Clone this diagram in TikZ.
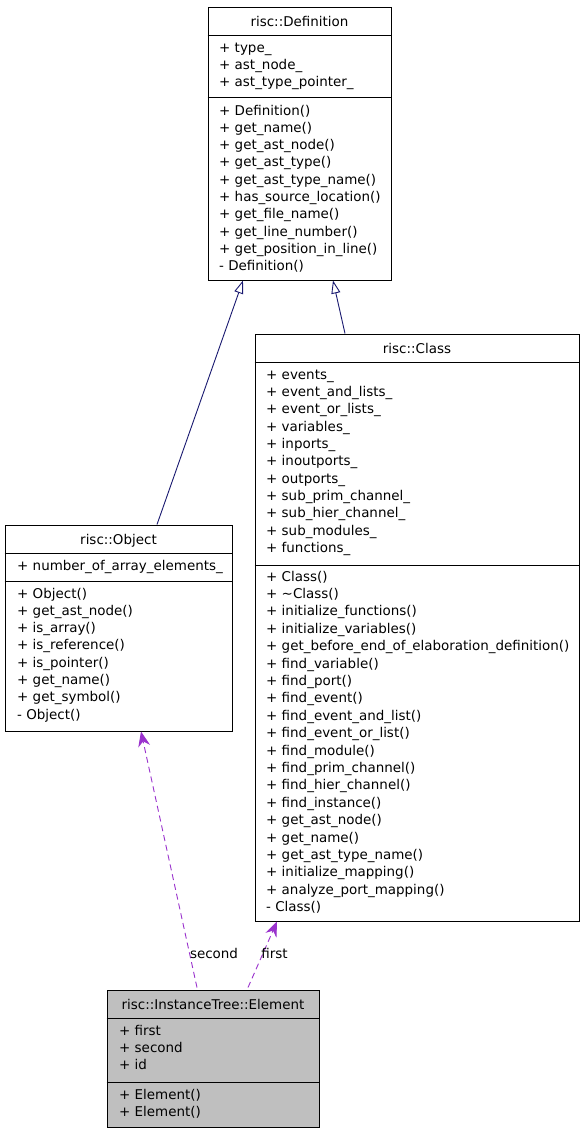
\documentclass[tikz,border=0pt]{standalone}
\usepackage{fontspec}
\setmainfont{DejaVu Sans}
\usetikzlibrary{arrows.meta}
\definecolor{inhcol}{HTML}{191970}
\definecolor{usecol}{HTML}{9A32CD}
\definecolor{elemfill}{HTML}{BFBFBF}
\tikzset{
  umlbox/.style={draw=black, line width=1pt, inner sep=0pt, rectangle},
  septline/.style={draw=black, line width=1pt},
  txt/.style={anchor=base west, inner sep=0pt, font=\fontsize{13.45}{16}\selectfont},
  ttl/.style={anchor=base, inner sep=0pt, font=\fontsize{13.45}{16}\selectfont},
  inherit/.style={draw=inhcol, line width=0.9pt, -{Triangle[open, length=13pt, width=9pt]}},
  uses/.style={draw=usecol, line width=0.9pt, dash pattern=on 6pt off 4pt, -{Stealth[length=15pt, width=12pt, inset=5pt]}},
  elabel/.style={anchor=base, inner sep=0pt, font=\fontsize{13.45}{16}\selectfont}
}
\begin{document}
\begin{tikzpicture}[x=1pt, y=-1pt]
\useasboundingbox (0,0) rectangle (584,1133);
\fill[white] (0,0) rectangle (584,1133);

% ---------- risc::Definition ----------
\node[umlbox, minimum width=183pt, minimum height=273pt] (def) at (299.5,143.5) {};
\draw[septline] (def.west |- 0,35) -- (def.east |- 0,35);
\draw[septline] (def.west |- 0,97) -- (def.east |- 0,97);
\node[ttl] (def-t) at (299.5,26) {risc::Definition};
\foreach \t [count=\i] in {+ type\_, + ast\_node\_, + ast\_type\_pointer\_}
  \node[txt, name=def-a\i] at (219,{52+(\i-1)*17.3}) {\t};
\foreach \t [count=\i] in {+ Definition(), + get\_name(), + get\_ast\_node(), + get\_ast\_type(), + get\_ast\_type\_name(), + has\_source\_location(), + get\_file\_name(), + get\_line\_number(), + get\_position\_in\_line(), - Definition()}
  \node[txt, name=def-m\i] at (219,{115+(\i-1)*17.3}) {\t};

% ---------- risc::Class ----------
\node[umlbox, minimum width=324pt, minimum height=587pt] (cls) at (417,627.5) {};
\draw[septline] (cls.west |- 0,362) -- (cls.east |- 0,362);
\draw[septline] (cls.west |- 0,565) -- (cls.east |- 0,565);
\node[ttl] (cls-t) at (417,353) {risc::Class};
\foreach \t [count=\i] in {+ events\_, + event\_and\_lists\_, + event\_or\_lists\_, + variables\_, + inports\_, + inoutports\_, + outports\_, + sub\_prim\_channel\_, + sub\_hier\_channel\_, + sub\_modules\_, + functions\_}
  \node[txt, name=cls-a\i] at (266,{379+(\i-1)*17.37}) {\t};
\foreach \t [count=\i] in {+ Class(), + \textasciitilde Class(), + initialize\_functions(), + initialize\_variables(), + get\_before\_end\_of\_elaboration\_definition(), + find\_variable(), + find\_port(), + find\_event(), + find\_event\_and\_list(), + find\_event\_or\_list(), + find\_module(), + find\_prim\_channel(), + find\_hier\_channel(), + find\_instance(), + get\_ast\_node(), + get\_name(), + get\_ast\_type\_name(), + initialize\_mapping(), + analyze\_port\_mapping(), - Class()}
  \node[txt, name=cls-m\i] at (266,{581+(\i-1)*17.4}) {\t};

% ---------- risc::Object ----------
\node[umlbox, minimum width=227pt, minimum height=206pt] (obj) at (118.5,628) {};
\draw[septline] (obj.west |- 0,553) -- (obj.east |- 0,553);
\draw[septline] (obj.west |- 0,581) -- (obj.east |- 0,581);
\node[ttl] (obj-t) at (118.5,544) {risc::Object};
\node[txt] (obj-a1) at (17,570) {+ number\_of\_array\_elements\_};
\foreach \t [count=\i] in {+ Object(), + get\_ast\_node(), + is\_array(), + is\_reference(), + is\_pointer(), + get\_name(), + get\_symbol(), - Object()}
  \node[txt, name=obj-m\i] at (17,{598+(\i-1)*17.3}) {\t};

% ---------- risc::InstanceTree::Element ----------
\node[umlbox, fill=elemfill, minimum width=212pt, minimum height=137pt] (elem) at (213,1058.5) {};
\draw[septline] (elem.west |- 0,1018) -- (elem.east |- 0,1018);
\draw[septline] (elem.west |- 0,1082) -- (elem.east |- 0,1082);
\node[ttl] (elem-t) at (213,1009) {risc::InstanceTree::Element};
\foreach \t [count=\i] in {+ first, + second, + id}
  \node[txt, name=elem-a\i] at (119,{1035+(\i-1)*17.3}) {\t};
\foreach \t [count=\i] in {+ Element(), + Element()}
  \node[txt, name=elem-m\i] at (119,{1099+(\i-1)*17.3}) {\t};

% ---------- connectors ----------
\draw[inherit] ([xshift=38.5pt]obj.north) -- ([xshift=-56.5pt]def.south);
\draw[inherit] ([xshift=-72pt]cls.north) -- ([xshift=33.5pt]def.south);
\draw[uses] ([xshift=-16pt,yshift=2pt]elem.north) -- ([xshift=22.5pt]obj.south);
\draw[uses] ([xshift=35pt,yshift=2pt]elem.north) -- ([xshift=-140pt]cls.south);
\node[elabel] (lbl-second) at (214,958) {second};
\node[elabel] (lbl-first) at (274.5,958) {first};
\end{tikzpicture}
\end{document}
